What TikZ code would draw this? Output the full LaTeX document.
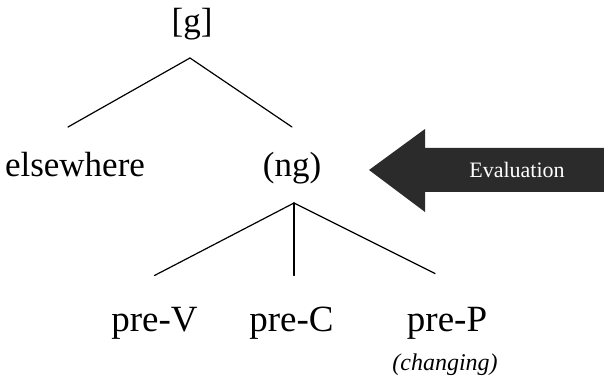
\documentclass[tikz,border=0pt]{standalone}
\usepackage{fontspec}
\setmainfont{Liberation Serif}
\usetikzlibrary{positioning}
\definecolor{evalc}{HTML}{2B2B2B}
\tikzset{
  lbl/.style={font=\fontsize{35}{40}\selectfont, inner sep=0pt, anchor=base},
  leaf/.style={font=\fontsize{37}{42}\selectfont, inner sep=0pt, anchor=base},
  note/.style={font=\fontsize{24}{28}\selectfont\itshape, inner sep=0pt, anchor=base},
  branch/.style={line width=1.2pt, line cap=round},
  tag/.style={font=\fontsize{22}{26}\selectfont, text=white, inner sep=0pt},
}

\begin{document}
\begin{tikzpicture}[x=1pt, y=1pt]
\useasboundingbox (0,0) rectangle (604,383);

% the tree
\node[lbl] (g) at (192,350) {[g]};
\node[lbl] (else) at (75,206) {elsewhere};
\node[lbl] (ng) at (292,206) {(ng)};
\node[leaf] (prev) at (154.5,51.5) {pre-V};
\node[leaf] (prec) at (291.5,51.5) {pre-C};
\node[leaf] (prep) at (447,51.5) {pre-P};
\node[note] (chg) at (445,13) {(changing)};

\draw[branch] ([shift={(-2,-25)}]g.base) -- ([shift={(-7,50)}]else.base);
\draw[branch] ([shift={(-2,-25)}]g.base) -- ([shift={(0,50)}]ng.base);
\foreach \leafnode/\dx/\dy in {prev/0/56, prec/2.5/56, prep/-12/58}
  \draw[branch] ([shift={(2,-26)}]ng.base) -- ([shift={(\dx,\dy)}]\leafnode.base);

% the evaluation arrow
\fill[evalc] (369,213) -- (425,254) -- (425,235) -- (604,235)
  -- (604,191) -- (425,191) -- (425,171) -- cycle;
\node[tag] (eval) at (517,213) {Evaluation};
\end{tikzpicture}
\end{document}
